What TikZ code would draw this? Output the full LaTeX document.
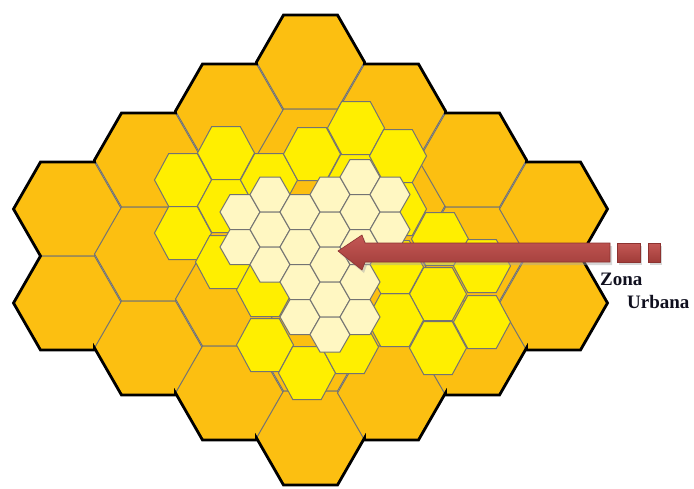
\documentclass[tikz,border=0pt]{standalone}
\usepackage{fontspec}
\setmainfont{Liberation Serif}
\definecolor{bigorange}{RGB}{252,191,17}
\definecolor{midyellow}{RGB}{255,239,0}
\definecolor{lightyellow}{RGB}{255,247,194}
\definecolor{edgegray}{RGB}{115,115,115}
\definecolor{arrowtop}{RGB}{196,88,85}
\definecolor{arrowmid}{RGB}{214,128,125}
\definecolor{arrowbot}{RGB}{160,60,57}
\definecolor{arrowedge}{RGB}{140,50,48}
\definecolor{labeltext}{RGB}{15,15,30}
\newcommand\hexshape[5]{%
  \path[#1] ({#2+#4},{#3}) -- ({#2+#4/2},{#3-#5}) -- ({#2-#4/2},{#3-#5}) -- ({#2-#4},{#3}) -- ({#2-#4/2},{#3+#5}) -- ({#2+#4/2},{#3+#5}) -- cycle;}
\tikzset{
  bighex/.style={fill=bigorange, draw=edgegray, line width=1pt, line join=miter},
  yelhex/.style={fill=midyellow, draw=edgegray, line width=1pt},
  lighthex/.style={fill=lightyellow, draw=edgegray, line width=1pt},
  outline/.style={draw=black, line width=2.8pt, line join=miter},
  arrowbody/.style={top color=arrowtop, middle color=arrowmid, bottom color=arrowbot, draw=arrowedge, line width=0.6pt},
  arrowshadow/.style={fill=black!35, opacity=0.45},
  labelstyle/.style={font=\bfseries\fontsize{19}{21}\selectfont, text=labeltext, inner sep=0pt, anchor=base west}
}
\begin{document}
\begin{tikzpicture}[x=1pt,y=-1pt]
\useasboundingbox (0,0) rectangle (694,488);
% large cells
\foreach \cx/\cy in {67.5/209, 67.5/303,
  148.5/160, 148.5/254, 148.5/348,
  229.5/111, 229.5/205, 229.5/299, 229.5/393,
  310.5/62, 310.5/156, 310.5/250, 310.5/344, 310.5/438,
  391.5/111, 391.5/205, 391.5/299, 391.5/393,
  472.5/160, 472.5/254, 472.5/348,
  553.5/209, 553.5/303}
  {\hexshape{bighex}{\cx}{\cy}{54}{47}}
% outer boundary
\draw[outline] (283.5,15) -- (337.5,15) -- (364.5,62) -- (364.5,64) -- (418.5,64) -- (445.5,111) -- (445.5,113)
  -- (499.5,113) -- (526.5,160) -- (526.5,162) -- (580.5,162) -- (607.5,209) -- (580.5,256) -- (607.5,303)
  -- (580.5,350) -- (526.5,350) -- (526.5,348) -- (499.5,395) -- (445.5,395) -- (445.5,393) -- (418.5,440)
  -- (364.5,440) -- (364.5,438) -- (337.5,485) -- (283.5,485) -- (256.5,438) -- (256.5,440) -- (202.5,440)
  -- (175.5,393) -- (175.5,395) -- (121.5,395) -- (94.5,348) -- (94.5,350) -- (40.5,350) -- (13.5,303)
  -- (40.5,256) -- (13.5,209) -- (40.5,162) -- (94.5,162) -- (94.5,160) -- (121.5,113) -- (175.5,113)
  -- (175.5,111) -- (202.5,64) -- (256.5,64) -- (256.5,62) -- cycle;
% medium cells
\foreach \cx/\cy in {183/180, 183/233, 226/153, 226/206, 224/262, 269/180, 265/290, 265/345, 307/373,
  312/154, 356/128, 355/181, 398/156, 398/209, 440/239, 482/266, 438/294, 482/322, 438/348,
  395/320, 395/267, 350/347}
  {\hexshape{yelhex}{\cx}{\cy}{28.5}{26.5}}
% small cells
\foreach \cx/\cy in {240/212, 240/247,
  270/194.5, 270/229.5, 270/264.5,
  300/212, 300/247, 300/282, 300/317,
  330/194.5, 330/229.5, 330/264.5, 330/299.5, 330/334.5,
  360/177, 360/212, 360/247, 360/282, 360/317,
  390/194.5, 390/229.5}
  {\hexshape{lighthex}{\cx}{\cy}{20}{17.5}}
% arrow
\coordinate (tip) at (338,251);
\fill[arrowshadow] ([shift={(2,3)}]tip) -- (364,238) -- (367,246) -- (612,246) -- (612,265) -- (367,265) -- (364,273) -- cycle;
\fill[arrowshadow] (619,246) rectangle (642,265);
\fill[arrowshadow] (650,246) rectangle (662,265);
\shade[arrowbody] (tip) -- (362,235) -- (365,243) -- (610,243) -- (610,262) -- (365,262) -- (362,270) -- cycle;
\shade[arrowbody] (617,243) rectangle (640,262);
\shade[arrowbody] (648,243) rectangle (660,262);
% labels
\node[labelstyle] (zona) at (600,285) {Zona};
\node[labelstyle] (urbana) at (627,308) {Urbana};
\end{tikzpicture}
\end{document}
